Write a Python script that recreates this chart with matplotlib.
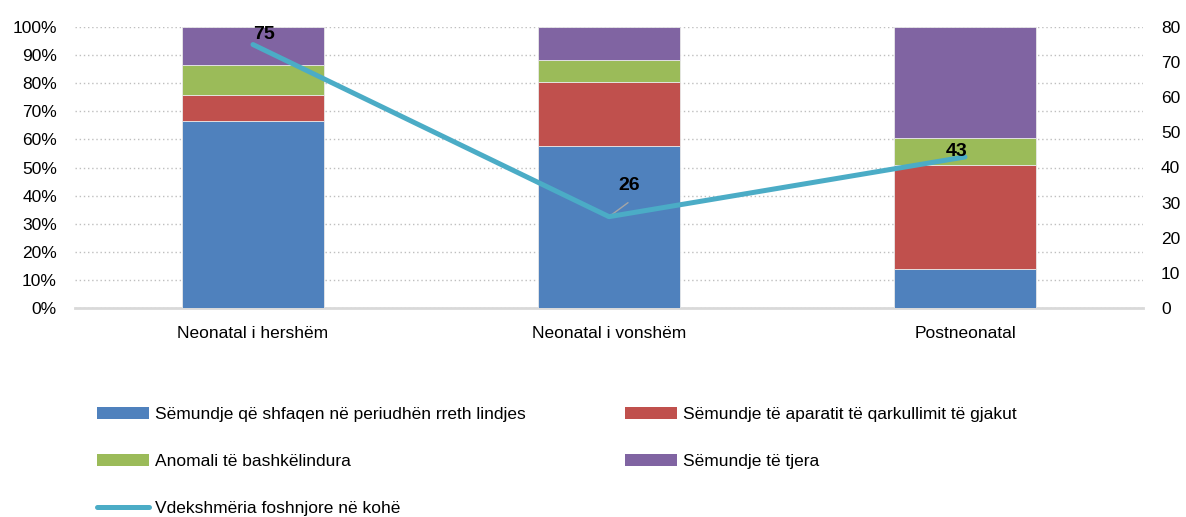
import numpy as np
import matplotlib.pyplot as plt
from matplotlib.ticker import FuncFormatter
from matplotlib.patches import Patch
from matplotlib.lines import Line2D

plt.rcParams['font.family'] = ['Liberation Sans', 'DejaVu Sans']

# shares of causes of death (%) by period, and infant mortality (right axis)
categories = ['Neonatal i hershëm', 'Neonatal i vonshëm', 'Postneonatal']
perinatal = [66.5, 57.5, 13.8]
circulatory = [9.3, 23.0, 37.2]
congenital = [10.8, 7.8, 9.4]
other = [13.4, 11.7, 39.6]
mortality = [75, 26, 43]

series = [
    ('Sëmundje që shfaqen në periudhën rreth lindjes', perinatal, '#4F81BD'),
    ('Sëmundje të aparatit të qarkullimit të gjakut', circulatory, '#C0504D'),
    ('Anomali të bashkëlindura', congenital, '#9BBB59'),
    ('Sëmundje të tjera', other, '#8064A2'),
]
line_label = 'Vdekshmëria foshnjore në kohë'
line_color = '#4BACC6'

fig = plt.figure(figsize=(11.86, 5.17), dpi=100)
ax = fig.add_axes([75 / 1186, 1 - 308 / 517, (1143 - 75) / 1186, 281 / 517])

x = np.arange(len(categories))
bottom = np.zeros(len(categories))
handles = []
for name, vals, col in series:
    ax.bar(x, vals, 0.4, bottom=bottom, color=col, edgecolor='#e8e8e8',
           linewidth=0.6, zorder=3)
    bottom += np.array(vals)
    handles.append(Patch(facecolor=col, edgecolor='none', label=name))

ax.set_xlim(-0.5, 2.5)
ax.set_ylim(0, 100)
ax.set_yticks(np.arange(0, 101, 10))
ax.yaxis.set_major_formatter(FuncFormatter(lambda v, p: '%d%%' % v))
ax.set_xticks(x)
ax.set_xticklabels(categories)
ax.tick_params(axis='both', length=0, labelsize=12.5)
ax.tick_params(axis='y', pad=13)
ax.tick_params(axis='x', pad=13)
ax.grid(axis='y', linestyle=(0, (1, 2)), color='#bfbfbf', linewidth=1, zorder=0)
for s in ['top', 'left', 'right']:
    ax.spines[s].set_visible(False)
ax.spines['bottom'].set_color('#d9d9d9')
ax.spines['bottom'].set_linewidth(2)

ax2 = ax.twinx()
ax2.plot(x, mortality, color=line_color, linewidth=3.6, solid_capstyle='round',
         zorder=5)
ax2.set_ylim(0, 80)
ax2.set_yticks(np.arange(0, 81, 10))
ax2.tick_params(axis='y', length=0, labelsize=12.5, pad=13)
for s in ax2.spines.values():
    s.set_visible(False)

# data labels
offsets = [(11, 10), (20, 31), (-8, 5)]
for xi, v, (dx, dy) in zip(x, mortality, offsets):
    ax2.annotate(str(v), (xi, v), xytext=(dx * 0.72, dy * 0.72),
                 textcoords='offset points', ha='center', va='center',
                 fontsize=14, fontweight='bold', zorder=6)
ax2.annotate('', (x[1], mortality[1]), xytext=(19 * 0.72, 14 * 0.72),
             textcoords='offset points',
             arrowprops=dict(arrowstyle='-', color='#a6a6a6', lw=1,
                             shrinkA=0, shrinkB=1))

line_handle = Line2D([0], [0], color=line_color, linewidth=3.6,
                     solid_capstyle='round', label=line_label)

leg_kw = dict(loc='upper left', frameon=False, fontsize=12.5, handlelength=3.0,
              handleheight=0.62, handletextpad=0.35, labelspacing=1.85,
              borderpad=0, borderaxespad=0)
leg1 = fig.legend(handles=[handles[0], handles[2], line_handle],
                  bbox_to_anchor=(97 / 1186, 1 - 407 / 517), **leg_kw)
leg2 = fig.legend(handles=[handles[1], handles[3]],
                  bbox_to_anchor=(625 / 1186, 1 - 407 / 517), **leg_kw)

fig.savefig('out.png', dpi=100)
